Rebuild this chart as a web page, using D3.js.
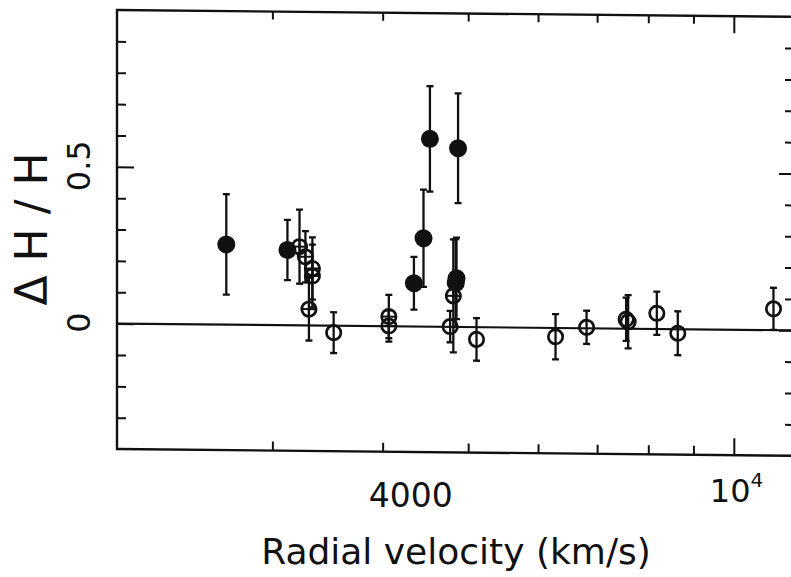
<!DOCTYPE html>
<html>
<head>
<meta charset="utf-8">
<script src="https://cdn.jsdelivr.net/npm/d3@7"></script>
<style>
  html, body { margin: 0; padding: 0; background: #fff; }
  svg { display: block; }
</style>
</head>
<body>
<div id="chart"></div>
<script>
// filled circles
const filledVel = [2660, 3120, 4340, 4450, 4525, 4870, 4850, 4840];
const filledDH  = [0.256, 0.240, 0.138, 0.282, 0.599, 0.570, 0.155, 0.140];
const filledErr = [0.160, 0.096, 0.084, 0.155, 0.168, 0.175, 0.130, 0.140];

// circles with a cross
const crossVel = [3220, 3270, 3330, 3330, 3300, 4065, 4065, 4810];
const crossDH  = [0.251, 0.219, 0.182, 0.158, 0.052, 0.031, 0.001, 0.099];
const crossErr = [0.118, 0.082, 0.099, 0.100, 0.100, 0.069, 0.050, 0.180];

// open circles
const openVel = [3520, 4770, 5110, 6280, 6810, 7550, 7590, 8180, 8640, 11090];
const openDH  = [-0.022, 0.001, -0.039, -0.028, 0.003, 0.030, 0.022, 0.050, -0.013, 0.068];
const openErr = [0.065, 0.050, 0.068, 0.072, 0.053, 0.069, 0.085, 0.069, 0.070, 0.067];

// ticks
const xMinorTicks = [3000, 4000, 5000, 6000, 7000, 8000, 9000];
const xMajorTicks = [10000];
const yMinorTicks = [-0.3, -0.2, -0.1, 0.1, 0.2, 0.3, 0.4, 0.6, 0.7, 0.8, 0.9];
const yMajorTicks = [0, 0.5];
const yTickLabels = ['0', '0.5'];

const width = 791, height = 577;
const ink = '#111';
const font = '"DejaVu Sans", sans-serif';

const svg = d3.select('#chart').append('svg')
    .attr('width', width)
    .attr('height', height);

const x = d3.scaleLog().domain([2000, 11700]).range([117, 794]);
const y = d3.scaleLinear().domain([-0.4, 1.0]).range([449, 10]);

// the scanned figure is slightly sheared: horizontal lines drop to the right
const k = 0.01;
const plot = svg.append('g')
    .attr('transform', `matrix(1, ${k}, 0, 1, 0, ${-k * x.range()[0]})`);

const toRows = (v, d, e) => v.map((vel, i) => ({ vel, dh: d[i], err: e[i] }));
const filled = toRows(filledVel, filledDH, filledErr);
const cross = toRows(crossVel, crossDH, crossErr);
const open = toRows(openVel, openDH, openErr);

// zero line
plot.append('line')
    .attr('x1', x.range()[0]).attr('x2', x.range()[1])
    .attr('y1', y(0)).attr('y2', y(0))
    .attr('stroke', ink).attr('stroke-width', 2.2);

// axes ticks (inward)
function ticks(axis, transform) {
    plot.append('g')
        .attr('transform', transform)
        .call(axis)
        .call(g => g.select('.domain').remove())
        .call(g => g.selectAll('text').remove())
        .call(g => g.selectAll('.tick line').attr('stroke', ink).attr('stroke-width', 2));
}
const [x0, x1] = x.range();
const [yb, yt] = y.range();
ticks(d3.axisBottom(x).tickValues(xMinorTicks).tickSizeInner(-9).tickSizeOuter(0), `translate(0,${yb})`);
ticks(d3.axisBottom(x).tickValues(xMajorTicks).tickSizeInner(-17).tickSizeOuter(0), `translate(0,${yb})`);
ticks(d3.axisTop(x).tickValues(xMinorTicks).tickSizeInner(-8).tickSizeOuter(0), `translate(0,${yt})`);
ticks(d3.axisTop(x).tickValues(xMajorTicks).tickSizeInner(-17).tickSizeOuter(0), `translate(0,${yt})`);
ticks(d3.axisLeft(y).tickValues(yMinorTicks).tickSizeInner(-9).tickSizeOuter(0), `translate(${x0},0)`);
ticks(d3.axisLeft(y).tickValues(yMajorTicks).tickSizeInner(-17).tickSizeOuter(0), `translate(${x0},0)`);
ticks(d3.axisRight(y).tickValues(yMinorTicks).tickSizeInner(-9).tickSizeOuter(0), `translate(${x1},0)`);
ticks(d3.axisRight(y).tickValues(yMajorTicks).tickSizeInner(-15).tickSizeOuter(0), `translate(${x1},0)`);

// frame
plot.append('rect')
    .attr('x', x0).attr('y', yt)
    .attr('width', x1 - x0).attr('height', yb - yt)
    .attr('fill', 'none').attr('stroke', ink).attr('stroke-width', 2.4);

// error bars
const all = filled.concat(cross, open);
const bars = plot.append('g').attr('stroke', ink).attr('stroke-width', 2.3);
all.forEach(d => {
    const cx = x(d.vel), top = y(d.dh + d.err), bot = y(d.dh - d.err);
    bars.append('line').attr('x1', cx).attr('x2', cx).attr('y1', top).attr('y2', bot);
    bars.append('line').attr('x1', cx - 3.5).attr('x2', cx + 3.5).attr('y1', top).attr('y2', top);
    bars.append('line').attr('x1', cx - 3.5).attr('x2', cx + 3.5).attr('y1', bot).attr('y2', bot);
});

// markers
plot.append('g').selectAll('circle')
    .data(open).join('circle')
    .attr('cx', d => x(d.vel)).attr('cy', d => y(d.dh)).attr('r', 7.2)
    .attr('fill', 'none').attr('stroke', ink).attr('stroke-width', 2.7);

const cg = plot.append('g').selectAll('g')
    .data(cross).join('g')
    .attr('transform', d => `translate(${x(d.vel)},${y(d.dh)})`);
cg.append('circle').attr('r', 7.2).attr('fill', 'none').attr('stroke', ink).attr('stroke-width', 2.7);
cg.append('line').attr('x1', -7).attr('x2', 7).attr('stroke', ink).attr('stroke-width', 2);
cg.append('line').attr('y1', -7).attr('y2', 7).attr('stroke', ink).attr('stroke-width', 2);

plot.append('g').selectAll('circle')
    .data(filled).join('circle')
    .attr('cx', d => x(d.vel)).attr('cy', d => y(d.dh)).attr('r', 9)
    .attr('fill', ink);

// tick labels
svg.append('text')
    .attr('x', x(4000) + 28).attr('y', 507)
    .attr('text-anchor', 'middle')
    .attr('font-family', font).attr('font-size', 33).attr('fill', ink)
    .text('4000');

const tenLabel = svg.append('text')
    .attr('x', x(10000) - 24).attr('y', 502)
    .attr('font-family', font).attr('font-size', 32).attr('fill', ink);
tenLabel.append('tspan').text('10');
tenLabel.append('tspan').attr('font-size', 20).attr('dy', -15).text('4');

yMajorTicks.forEach((v, i) => {
    svg.append('text')
        .attr('transform', `translate(90,${y(v) - 1}) rotate(-90)`)
        .attr('text-anchor', 'middle')
        .attr('font-family', font).attr('font-size', 32).attr('fill', ink)
        .text(yTickLabels[i]);
});

// axis titles
svg.append('text')
    .attr('x', 456).attr('y', 564)
    .attr('text-anchor', 'middle')
    .attr('font-family', font).attr('font-size', 36).attr('fill', ink)
    .text('Radial velocity (km/s)');

svg.append('text')
    .attr('transform', 'translate(47,229) rotate(-90)')
    .attr('text-anchor', 'middle')
    .attr('font-family', font).attr('font-size', 44).attr('fill', ink)
    .text('Δ H / H');
</script>
</body>
</html>
